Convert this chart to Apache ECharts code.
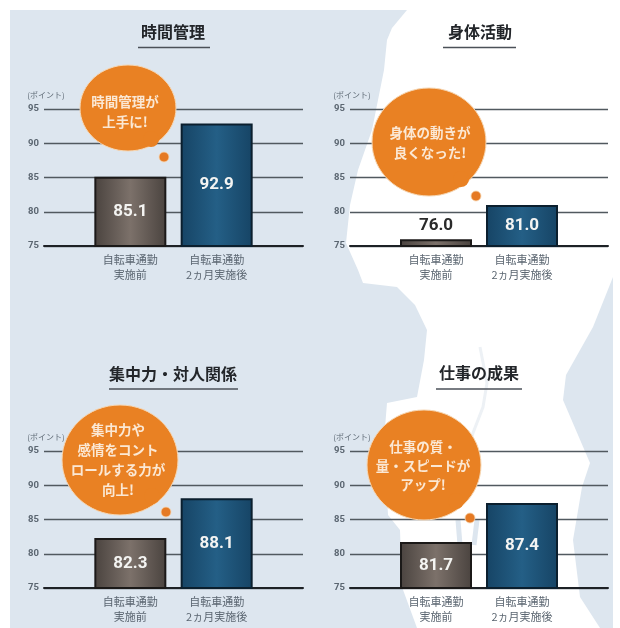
<!DOCTYPE html>
<html>
<head>
<meta charset="utf-8">
<style>
html, body { margin: 0; padding: 0; background: #fff; }
#chart { width: 620px; height: 628px; }
</style>
<script src="https://cdn.jsdelivr.net/npm/echarts@6/dist/echarts.min.js"></script>
</head>
<body>
<div id="chart"></div>
<script>
// 実際の値
var panelTitles = ['時間管理', '身体活動', '集中力・対人関係', '仕事の成果'];
var categories = ['', '自転車通勤\n実施前', '自転車通勤\n2ヵ月実施後', ''];
var beforeValues = [85.1, 76.0, 82.3, 81.7];
var afterValues = [92.9, 81.0, 88.1, 87.4];
var yTicks = [75, 80, 85, 90, 95];
var unitLabel = '(ポイント)';
var balloonTexts = ['時間管理が\n上手に!', '身体の動きが\n良くなった!', '集中力や\n感情をコント\nロールする力が\n向上!', '仕事の質・\n量・スピードが\nアップ!'];

var JP = '"Noto Sans CJK JP", sans-serif';

// レイアウト
var panelBox = [
	{ left: 44, right: 303, top: 109, bottom: 246 },
	{ left: 350, right: 608, top: 109, bottom: 246 },
	{ left: 44, right: 303, top: 451, bottom: 588 },
	{ left: 350, right: 608, top: 451, bottom: 588 }
];
var titlePos = [
	{ x: 173, y: 32, lineY: 47.5, x1: 138, x2: 210 },
	{ x: 480, y: 32, lineY: 47.5, x1: 443, x2: 516 },
	{ x: 173, y: 374, lineY: 389, x1: 109, x2: 238 },
	{ x: 479, y: 373, lineY: 389, x1: 436, x2: 522 }
];
var balloonPos = [
	{ cx: 128, cy: 108, rx: 48, ry: 43, bx: 151, by: 139, dx: 164, dy: 157, tx: 125, ty: 112, lh: 20 },
	{ cx: 429, cy: 142, rx: 57, ry: 54, bx: 461, by: 179, dx: 476, dy: 196, tx: 430, ty: 143, lh: 20 },
	{ cx: 120, cy: 460, rx: 58, ry: 55, bx: 152, by: 496, dx: 166, dy: 512, tx: 118, ty: 460, lh: 20 },
	{ cx: 424, cy: 465, rx: 57, ry: 55, bx: 456, by: 501, dx: 470, dy: 518, tx: 423, ty: 466, lh: 19 }
];

function hGrad(edge, mid) {
	return {
		type: 'linear', x: 0, y: 0, x2: 1, y2: 0,
		colorStops: [
			{ offset: 0, color: edge },
			{ offset: 0.5, color: mid },
			{ offset: 1, color: edge }
		]
	};
}

var grids = [], xAxes = [], yAxes = [], series = [];
panelTitles.forEach(function (name, i) {
	var b = panelBox[i];
	grids.push({ left: b.left, top: b.top, width: b.right - b.left, height: b.bottom - b.top });
	xAxes.push({
		type: 'category',
		gridIndex: i,
		data: categories,
		boundaryGap: false,
		axisTick: { show: false },
		axisLine: { lineStyle: { color: '#1d2125', width: 2 } },
		axisLabel: {
			interval: 0,
			margin: 6,
			fontFamily: JP,
			fontSize: 11,
			lineHeight: 15,
			color: '#5b6671'
		}
	});
	yAxes.push({
		type: 'value',
		gridIndex: i,
		min: yTicks[0],
		max: yTicks[yTicks.length - 1],
		interval: 5,
		name: unitLabel,
		nameLocation: 'end',
		nameGap: 10,
		nameTextStyle: { fontFamily: JP, fontSize: 8, color: '#5f6b76', align: 'center', padding: [0, 0, 0, 4] },
		axisLine: { show: false },
		axisTick: { show: false },
		axisLabel: { margin: 5, fontSize: 9.5, fontFamily: 'Roboto', fontWeight: 'bold', color: '#5b6671' },
		splitLine: { lineStyle: { color: '#51595f', width: 1.4 } }
	});
	var lowBar = beforeValues[i] < 77; // 76.0 だけバーの上にラベル
	series.push({
		type: 'bar',
		xAxisIndex: i,
		yAxisIndex: i,
		barWidth: 72,
		z: 3,
		label: {
			show: true,
			position: 'inside',
			fontFamily: 'Roboto',
			fontWeight: 'bold',
			fontSize: 17,
			color: '#f4f4f2',
			formatter: function (p) { return p.value.toFixed(1); }
		},
		data: [
			null,
			{
				value: beforeValues[i],
				itemStyle: { color: hGrad('#4a433f', '#7c716a'), borderColor: '#1b1918', borderWidth: 2 },
				label: lowBar ? { position: 'top', color: '#2a2a2a', distance: 5 } : {}
			},
			{
				value: afterValues[i],
				itemStyle: { color: hGrad('#164465', '#245f86'), borderColor: '#0b1f2e', borderWidth: 2 }
			},
			null
		]
	});
});

var SEA = '#dde6ef';
var graphics = [
	// 背景の地図
	{ type: 'rect', z: -10, silent: true, shape: { x: 10, y: 10, width: 603, height: 618 }, style: { fill: SEA } },
	{
		type: 'polygon', z: -9, silent: true,
		shape: {
			points: [[407, 10], [392, 28], [387, 40], [384, 70], [378, 100], [372, 130], [358, 170], [350, 205], [346, 243], [358, 270],
				[363, 283], [397, 287], [415, 305], [427, 330], [424, 360], [417, 397], [387, 403], [384, 440], [388, 515], [400, 530],
				[402, 587], [417, 628], [600, 628], [580, 597], [573, 540], [582, 487], [590, 463], [563, 400], [566, 375], [593, 327], [613, 277], [620, 277], [620, 10]]
		},
		style: { fill: '#ffffff' }
	},
	{ type: 'rect', z: -9, silent: true, shape: { x: 613, y: 270, width: 7, height: 358 }, style: { fill: '#ffffff' } },
	{
		type: 'polyline', z: -8, silent: true,
		shape: { points: [[480, 347], [487, 383], [483, 407], [473, 433], [467, 453], [462, 475]] },
		style: { stroke: '#edf1f5', lineWidth: 3, fill: null }
	},
	{
		type: 'polyline', z: -8, silent: true,
		shape: { points: [[458, 520], [460, 545]] },
		style: { stroke: '#dde6ef', lineWidth: 5, fill: null }
	},
	{
		type: 'polyline', z: -8, silent: true,
		shape: { points: [[477, 520], [474, 545]] },
		style: { stroke: '#dde6ef', lineWidth: 5, fill: null }
	}
];

panelTitles.forEach(function (name, i) {
	var t = titlePos[i], p = balloonPos[i];
	graphics.push({
		type: 'text', z: 20, silent: true,
		style: { text: name, x: t.x, y: t.y, align: 'center', verticalAlign: 'middle', font: 'bold 16px ' + JP, fill: '#23262a' }
	});
	graphics.push({
		type: 'line', z: 20, silent: true,
		shape: { x1: t.x1, y1: t.lineY, x2: t.x2, y2: t.lineY },
		style: { stroke: '#4b5158', lineWidth: 1.6 }
	});
	graphics.push({
		type: 'ellipse', z: 30, silent: true,
		shape: { cx: p.cx, cy: p.cy, rx: p.rx, ry: p.ry },
		style: { fill: '#e98123', stroke: '#f6d7b4', lineWidth: 1 }
	});
	graphics.push({
		type: 'circle', z: 31, silent: true,
		shape: { cx: p.bx, cy: p.by, r: 8 },
		style: { fill: '#e98123' }
	});
	graphics.push({
		type: 'circle', z: 31, silent: true,
		shape: { cx: p.dx, cy: p.dy, r: 5 },
		style: { fill: '#e57a24', stroke: '#f6d7b4', lineWidth: 0.8 }
	});
	graphics.push({
		type: 'text', z: 32, silent: true,
		style: {
			text: balloonTexts[i], x: p.tx, y: p.ty, align: 'center', verticalAlign: 'middle',
			font: 'bold 13.5px ' + JP, lineHeight: p.lh, fill: '#fbe8d4'
		}
	});
});

var myChart = echarts.init(document.getElementById('chart'), null, { renderer: 'canvas' });
myChart.setOption({
	animation: false,
	backgroundColor: '#ffffff',
	grid: grids,
	xAxis: xAxes,
	yAxis: yAxes,
	series: series,
	graphic: { elements: graphics }
});
</script>
</body>
</html>
